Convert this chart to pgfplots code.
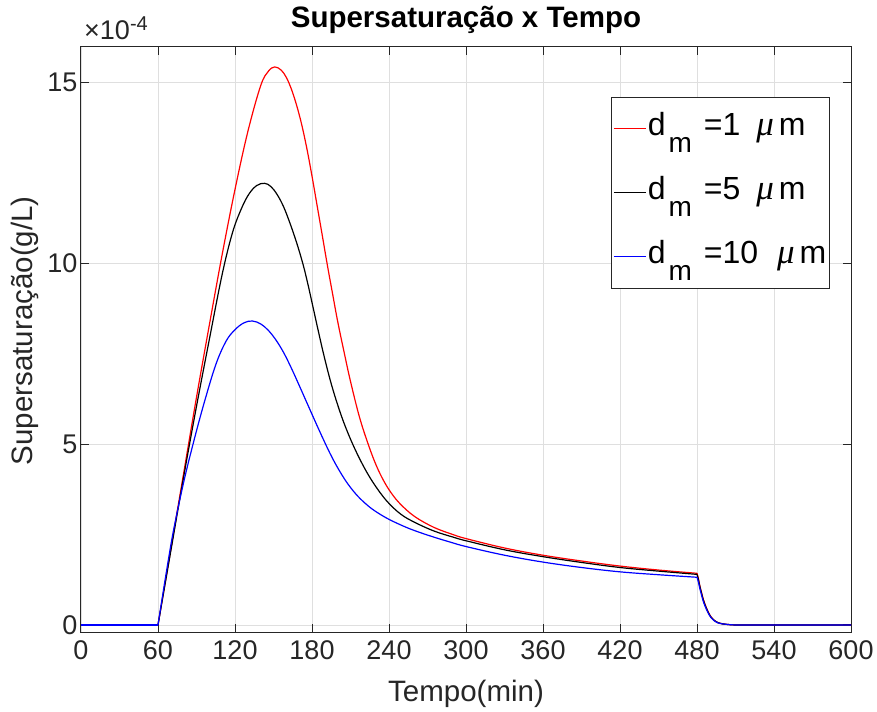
\documentclass[border=0pt]{standalone}
\usepackage{fontspec}
\setmainfont{Liberation Sans}
\newfontfamily\muserif{Liberation Serif}
\usepackage{pgfplots}
\pgfplotsset{compat=1.18}
\definecolor{gridc}{RGB}{223,223,223}
\definecolor{axc}{RGB}{38,38,38}
\newcommand{\dm}{d\hspace{3pt}\raisebox{-17pt}{\fontsize{28}{28}\selectfont m}}
\newcommand{\mum}{{\muserif\itshape\fontsize{35}{35}\selectfont μ}\hspace{5pt}m}
\begin{document}
\begin{tikzpicture}
\begin{axis}[
  name=ax,
  scale only axis, width=770pt, height=585.5pt,
  xmin=0, xmax=600, ymin=-0.2, ymax=16,
  xtick={0,60,...,600}, ytick={0,5,10,15},
  scaled ticks=false,
  /pgf/number format/assume math mode=true,
  grid=major, major grid style={gridc, line width=0.8pt},
  axis line style={axc, line width=1pt},
  tick style={axc, line width=1pt},
  tick align=inside, major tick length=8pt,
  ticklabel style={font=\fontsize{27}{32}\selectfont, text=axc},
  xticklabel style={yshift=-5pt},
  title={Supersaturação x Tempo},
  title style={font=\fontsize{29.5}{34}\selectfont\bfseries, at={(axis description cs:0.5,1)}, anchor=base, yshift=13.5pt},
  xlabel={Tempo(min)},
  xlabel style={font=\fontsize{29.5}{34}\selectfont, text=axc, at={(axis description cs:0.5,0)}, anchor=base, yshift=-69pt},
  ylabel={Supersaturação(g/L)},
  ylabel style={font=\fontsize{29.5}{34}\selectfont, text=axc, at={(axis description cs:-0.0636,0.515)}, rotate=0, anchor=base},
  legend style={at={(axis description cs:0.688,0.9146)}, anchor=north west, draw=axc, line width=1pt, fill=white,
    inner xsep=2pt, inner ysep=0pt, row sep=1pt, font=\fontsize{32}{36}\selectfont,
    nodes={text height=38pt, text depth=25pt, inner xsep=1.5pt, inner ysep=0pt}},
  legend cell align=left,
  legend image code/.code={\draw[#1, line width=1pt] (0pt,0pt) -- (32pt,0pt);},
  every axis plot/.append style={line width=1.2pt},
]
% red, d_m = 1 um
\addplot[red, forget plot] coordinates {(0,0) (60,0)};
\addplot[red, smooth, tension=0.6] coordinates {
(60,0) (70,2.1) (80,4.2) (90,6.3) (100,8.3) (110,10.25) (120,12.05) (130,13.65) (140,14.92) (146,15.32) (151,15.44) (156,15.35) (160,15.15) (164,14.82) (168,14.38) (172,13.84) (176,13.18) (180,12.42) (184,11.6) (188,10.78) (192,9.95) (196,9.17) (200,8.4) (205,7.55) (210,6.74) (217,5.75) (224,4.98) (230,4.42) (236,3.98) (242,3.64) (249,3.34) (260,3.0) (275,2.7) (290,2.5) (300,2.39) (330,2.13) (360,1.93) (390,1.77) (420,1.63) (450,1.52) (480,1.43)
};
\addlegendentry{\dm\hspace{12pt}=1\hspace{16pt}\mum}
\addplot[red, smooth, tension=0.5, forget plot] coordinates {
(480,1.43) (481,1.3) (482,1.12) (483,0.97) (485,0.7) (487,0.5) (489,0.34) (491,0.22) (493,0.14) (496,0.07) (500,0.03) (505,0.01) (510,0) (520,0) (600,0)
};
% black, d_m = 5 um
\addplot[black, forget plot] coordinates {(0,0) (60,0)};
\addplot[black, smooth, tension=0.6] coordinates {
(60,0) (70,2.05) (80,4.1) (90,6.05) (100,7.9) (110,9.7) (118,10.85) (125,11.52) (131,11.93) (137,12.16) (143,12.22) (148,12.13) (153,11.9) (158,11.56) (163,11.1) (168,10.58) (173,9.98) (177,9.4) (181,8.76) (185,8.12) (189,7.5) (194,6.8) (199,6.2) (205,5.58) (212,4.98) (220,4.4) (228,3.92) (238,3.44) (249,3.07) (260,2.84) (275,2.6) (290,2.43) (300,2.33) (330,2.08) (360,1.89) (390,1.73) (420,1.59) (450,1.49) (480,1.40)
};
\addlegendentry{\dm\hspace{12pt}=5\hspace{16pt}\mum}
\addplot[black, smooth, tension=0.5, forget plot] coordinates {
(480,1.40) (481,1.27) (482,1.1) (483,0.95) (485,0.68) (487,0.49) (489,0.33) (491,0.21) (493,0.14) (496,0.07) (500,0.03) (505,0.01) (510,0) (520,0) (600,0)
};
% blue, d_m = 10 um
\addplot[blue, forget plot] coordinates {(0,0) (60,0)};
\addplot[blue, smooth, tension=0.6] coordinates {
(60,0) (66,1.35) (72,2.6) (80,3.95) (88,5.1) (96,6.15) (105,7.2) (113,7.85) (120,8.17) (127,8.36) (133.5,8.41) (140,8.33) (146,8.15) (152,7.88) (158,7.53) (164,7.1) (170,6.63) (176,6.15) (182,5.67) (188,5.2) (194,4.75) (200,4.35) (207,3.95) (214,3.63) (221,3.38) (228,3.18) (238,2.96) (249,2.77) (260,2.61) (275,2.43) (288,2.29) (300,2.17) (330,1.93) (360,1.74) (390,1.59) (420,1.47) (450,1.39) (480,1.32)
};
\addlegendentry{\dm\hspace{12pt}=10\hspace{19pt}\mum}
\addplot[blue, smooth, tension=0.5, forget plot] coordinates {
(480,1.32) (481,1.2) (482,1.04) (483,0.9) (485,0.64) (487,0.46) (489,0.31) (491,0.2) (493,0.13) (496,0.06) (500,0.03) (505,0.01) (510,0) (520,0) (600,0)
};
\end{axis}
\node[anchor=base west, font=\fontsize{27}{30}\selectfont, text=axc, inner sep=0pt] at ([xshift=3pt,yshift=7.4pt]ax.north west) {×10\raisebox{9pt}{\fontsize{20}{20}\selectfont -4}};
\pgfresetboundingbox
\path ([xshift=-81pt,yshift=-79pt]ax.south west) rectangle ([xshift=26pt,yshift=46.7pt]ax.north east);
\end{tikzpicture}
\end{document}
